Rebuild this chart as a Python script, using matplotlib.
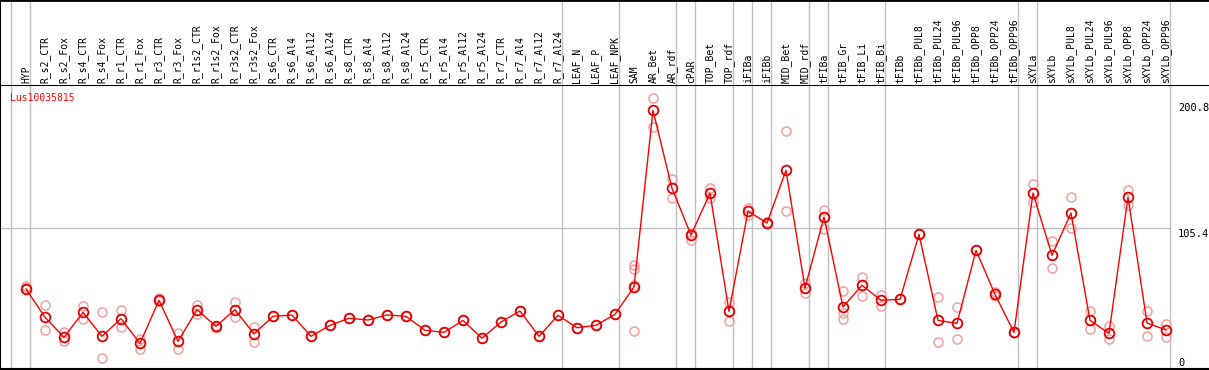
import matplotlib
matplotlib.use('Agg')
import matplotlib.pyplot as plt
import numpy as np

gene = 'Lus10035815'

samples = ['HYP', 'R_s2_CTR', 'R_s2_Fox', 'R_s4_CTR', 'R_s4_Fox', 'R_r1_CTR', 'R_r1_Fox',
           'R_r3_CTR', 'R_r3_Fox', 'R_r1s2_CTR', 'R_r1s2_Fox', 'R_r3s2_CTR', 'R_r3s2_Fox',
           'R_s6_CTR', 'R_s6_Al4', 'R_s6_Al12', 'R_s6_Al24', 'R_s8_CTR', 'R_s8_Al4',
           'R_s8_Al12', 'R_s8_Al24', 'R_r5_CTR', 'R_r5_Al4', 'R_r5_Al12', 'R_r5_Al24',
           'R_r7_CTR', 'R_r7_Al4', 'R_r7_Al12', 'R_r7_Al24', 'LEAF_N', 'LEAF_P', 'LEAF_NPK',
           'SAM', 'AR_Bet', 'AR_rdf', 'cPAR', 'TOP_Bet', 'TOP_rdf', 'iFIBa', 'iFIBb',
           'MID_Bet', 'MID_rdf', 'tFIBa', 'tFIB_Gr', 'tFIB_Li', 'tFIB_Bi', 'tFIBb',
           'tFIBb_PUL8', 'tFIBb_PUL24', 'tFIBb_PUL96', 'tFIBb_OPP8', 'tFIBb_OPP24', 'tFIBb_OPP96',
           'sXYLa', 'sXYLb', 'sXYLb_PUL8', 'sXYLb_PUL24', 'sXYLb_PUL96', 'sXYLb_OPP8',
           'sXYLb_OPP24', 'sXYLb_OPP96']

means = [56, 33, 16.8, 37, 17.6, 31.9, 11.9, 46.8, 13.5, 39.2, 25.7, 39.2, 19.5,
         33.8, 34.8, 17.6, 26.5, 32.2, 30.8, 34.9, 33.8, 22.5, 20.8, 30.5, 16,
         29.2, 38.1, 17.6, 34.6, 24.5, 26.5, 35.4,
         57.6, 200.8, 137.6, 99.8, 133.6, 37.8, 119, 109.5,
         152.2, 56.8, 114.4, 41.4, 59, 46.8, 47.6,
         100.3, 30.5, 28.1, 87.3, 51.6, 20.8,
         133.8, 83.3, 117.6, 30.5, 20, 130.6, 28.4, 22.7]

reps = [[58, 57, 56], [42.7, 22.5], [20.8, 14], [42, 31.4], [37, 0], [38.7, 25.4], [15.4, 7.5],
        [48.9, 46.5], [20, 7.5], [43, 36], [25.7, 24.5], [45.4, 33], [24.9, 13.2],
        [33.8], [34.8], [17.6], [26.5], [32.2], [30.8], [34.9], [33.8], [22.5], [20.8],
        [30.5], [16], [29.2], [38.1], [17.6], [34.6], [24.5], [26.5], [35.4],
        [75.4, 71.9, 59, 21.6], [210.6, 187.6], [144.9, 130], [101.6, 95.7], [138.1, 130],
        [45.4, 29.8], [121.9, 116], [110, 108.5], [184.5, 119], [61, 52.5], [119.8, 104.9],
        [54.1, 36.3, 31.4], [66, 50], [50.8, 42.2], [47.6], [100.3], [49.5, 12.7],
        [41.1, 15.2], [87.3], [53.5, 50], [20.3],
        [141.1, 126.5], [94.9, 72.7], [130.6, 105.2], [38.1, 23.3], [26, 15.2],
        [136.3, 124.1], [38.1, 17.6], [27.6, 16.8]]

# group separators (drawn right after these sample indices)
breaks = [-1, 0, 28, 31, 34, 35, 37, 38, 39, 41, 42, 45, 52, 53, 60]

W, H = 1209, 370
fig = plt.figure(figsize=(W / 100, H / 100), dpi=100)

x0 = -26 / 19
x1 = (W - 26) / 19
ax = fig.add_axes([0, 1 / H, 1, (369 - 85) / H])
hd = fig.add_axes([0, (H - 85) / H, 1, 85 / H])
for a in (ax, hd):
    a.set_xlim(x0, x1)
    a.set_xticks([])
    a.set_yticks([])
    for s in a.spines.values():
        s.set_visible(False)
ax.set_ylim((358 - 369) / 1.233, (358 - 85) / 1.233)
hd.set_ylim(0, 85)

grey = '#c0c0c0'
off = 4 / 19
for b in breaks:
    ax.axvline(b + off, color=grey, lw=1, zorder=1)
    hd.axvline(b + off, color=grey, lw=1, zorder=1)
ax.hlines(105.4, x0, 60 + off, color=grey, lw=1, zorder=1)

# frame lines
for k in ('left', 'bottom', 'top'):
    ax.spines[k].set_visible(True)
    ax.spines[k].set_color('black')
    ax.spines[k].set_linewidth(1.5)
hd.spines['top'].set_visible(True)
hd.spines['top'].set_linewidth(2)
hd.spines['left'].set_visible(True)
hd.spines['left'].set_linewidth(1.5)

mono = 'DejaVu Sans Mono'
for i, name in enumerate(samples):
    hd.text(i, 2, name, rotation=90, ha='center', va='bottom', fontsize=7,
            family=mono, color='black')

x = np.arange(len(samples))
for i, r in enumerate(reps):
    ax.plot([i] * len(r), r, 'o', ms=6.5, mfc='none', mec='#f0a0a0', mew=1.1, zorder=2)
ax.plot(x, means, '-', color='red', lw=1, zorder=3)
ax.plot(x, means, 'o', ms=7, mfc='none', mec='#e00000', mew=1.3, zorder=4)

ax.text(-0.84, 210.9, gene, color='red', fontsize=7, family=mono, va='center', ha='left')

tx = (1178 - 26) / 19
ax.text(tx, 206.8, '200.8', fontsize=7.5, family=mono, va='top', ha='left')
ax.text(tx, 104.6, '105.4', fontsize=7.5, family=mono, va='top', ha='left')
ax.text(tx, 0, '0', fontsize=7.5, family=mono, va='top', ha='left')

fig.savefig('out.png', dpi=100)
